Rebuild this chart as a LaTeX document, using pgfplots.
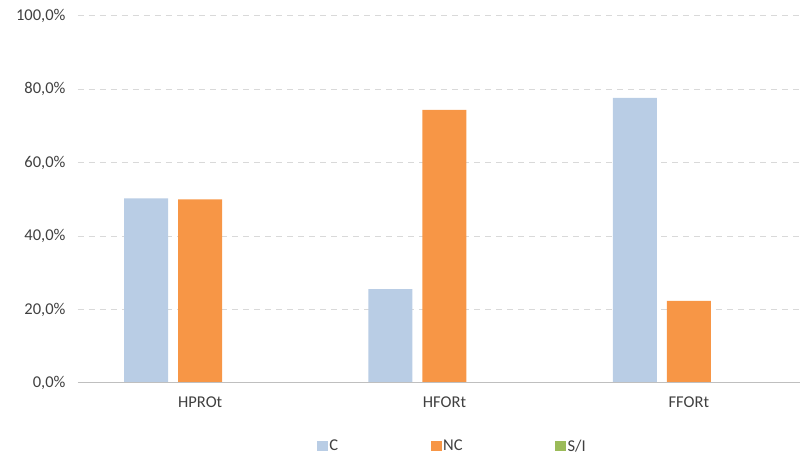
\documentclass[border=0pt]{standalone}
\usepackage{fontspec}
\setmainfont{Carlito}
\usepackage{pgfplots}
\pgfplotsset{compat=1.18}
\usetikzlibrary{calc}

\definecolor{cBlue}{HTML}{B9CDE5}
\definecolor{cOrange}{HTML}{F79646}
\definecolor{cGreen}{HTML}{9BBB59}
\definecolor{gridgray}{HTML}{D9D9D9}
\definecolor{axisgray}{HTML}{BFBFBF}
\definecolor{txt}{HTML}{404040}

\begin{document}
\begin{tikzpicture}
\begin{axis}[
  name=ax,
  scale only axis,
  width=722pt, height=367pt,
  xmin=-0.5, xmax=2.455,
  ymin=0, ymax=100,
  ybar, bar width=44pt,
  xtick={0,1,2},
  xticklabels={HPROt,HFORt,FFORt},
  ytick={0,20,40,60,80,100},
  yticklabels={{0,0\%},{20,0\%},{40,0\%},{60,0\%},{80,0\%},{100,0\%}},
  /pgf/number format/assume math mode=true,
  major tick length=0pt,
  tick style={draw=none},
  axis line style={draw=none},
  ymajorgrids,
  grid style={gridgray, line width=1pt, dash pattern=on 6pt off 5pt},
  font=\fontsize{16.5}{19}\selectfont,
  tick label style={text=txt},
  yticklabel style={xshift=-9pt},
  xticklabel style={yshift=-10pt},
  legend columns=3,
  legend style={at={(0.5180,-0.172)}, anchor=center, draw=none,
    text=txt, font=\fontsize{16.5}{19}\selectfont,
    /tikz/every even column/.append style={column sep=91pt},
    nodes={inner sep=1.5pt}},
  legend image code/.code={\fill[#1] (0pt,-5pt) rectangle (11pt,5pt);},
  clip=false,
]
% share of each answer per indicator
\addplot[fill=cBlue, draw=none, bar shift=-54pt] coordinates {(0,50.3) (1,25.6) (2,77.7)};
\addplot[fill=cOrange, draw=none, bar shift=0pt] coordinates {(0,50.0) (1,74.4) (2,22.4)};
\addplot[fill=cGreen, draw=none, bar shift=54pt] coordinates {(0,0) (1,0) (2,0)};
\legend{C,NC,S/I}
% baseline
\draw[axisgray, line width=1pt] (axis cs:-0.5,0) -- (axis cs:2.455,0);
\end{axis}
\pgfresetboundingbox
\useasboundingbox ($(ax.south west)+(-78pt,-72pt)$) rectangle ($(ax.north east)+(1pt,16pt)$);
\end{tikzpicture}
\end{document}
